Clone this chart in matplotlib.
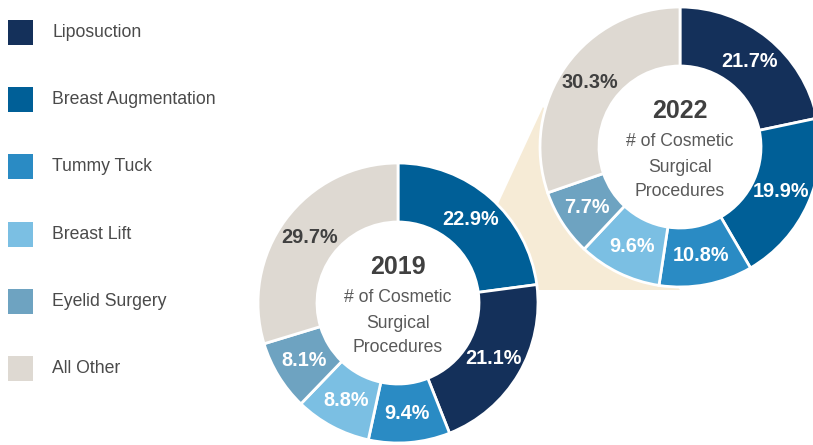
import matplotlib
matplotlib.use('Agg')
import matplotlib.pyplot as plt
from matplotlib import font_manager as fm
from matplotlib.patches import Polygon, Circle, Rectangle

# fonts: narrow sans if available
try:
    fm.findfont('Liberation Sans Narrow', fallback_to_default=False)
    FONT = 'Liberation Sans Narrow'
    SCALE = 1.0
except Exception:
    FONT = 'Liberation Sans'
    SCALE = 0.82
plt.rcParams['font.family'] = [FONT, 'DejaVu Sans']

categories = ['Liposuction', 'Breast Augmentation', 'Tummy Tuck',
              'Breast Lift', 'Eyelid Surgery', 'All Other']
colors = ['#14305a', '#005f97', '#2a8bc4', '#7bbfe3', '#6ea3c1', '#ded9d2']

# values in clockwise order from 12 o'clock
order_2019 = ['Breast Augmentation', 'Liposuction', 'Tummy Tuck',
              'Breast Lift', 'Eyelid Surgery', 'All Other']
pct_2019 = [22.9, 21.1, 9.4, 8.8, 8.1, 29.7]

order_2022 = ['Liposuction', 'Breast Augmentation', 'Tummy Tuck',
              'Breast Lift', 'Eyelid Surgery', 'All Other']
pct_2022 = [21.7, 19.9, 10.8, 9.6, 7.7, 30.3]

W, H = 813, 445
fig = plt.figure(figsize=(W / 100, H / 100), dpi=100)
ax = fig.add_axes([0, 0, 1, 1])

R, RIN = 140, 81
c19 = (398, H - 303)
c22 = (680, H - 147)

# beige connector behind the donuts
ax.add_patch(Polygon([(543, H - 107), (480, H - 243), (480, H - 290), (680, H - 290)],
                     closed=True, facecolor='#f6ebd6', edgecolor='none', zorder=0))


def donut(center, order, vals, year):
    cols = [colors[categories.index(c)] for c in order]
    wedges, texts, autotexts = ax.pie(
        vals, colors=cols, startangle=90, counterclock=False, radius=R,
        center=center, autopct='%.1f%%', pctdistance=(R + RIN) / 2 / R,
        wedgeprops=dict(width=R - RIN, edgecolor='white', linewidth=2),
        textprops=dict(fontsize=17.5 * SCALE, fontweight='bold', color='white'),
        frame=True)
    for w in wedges:
        w.set_zorder(2)
    for name, t in zip(order, autotexts):
        t.set_zorder(4)
        if name == 'All Other':
            t.set_color('#404040')
    ax.add_patch(Circle(center, RIN - 1, facecolor='white', edgecolor='none', zorder=3))
    cx, cy = center
    ax.text(cx, cy + 36, year, ha='center', va='center', fontsize=22 * SCALE,
            fontweight='bold', color='#404040', zorder=5)
    for dy, line in zip([6, -20, -45], ['# of Cosmetic', 'Surgical', 'Procedures']):
        ax.text(cx, cy + dy, line, ha='center', va='center', fontsize=15.5 * SCALE,
                color='#595959', zorder=5)


donut(c19, order_2019, pct_2019, '2019')
donut(c22, order_2022, pct_2022, '2022')

# legend
for i, (name, col) in enumerate(zip(categories, colors)):
    yc = H - (32.5 + i * 67.2)
    ax.add_patch(Rectangle((8, yc - 12.5), 25, 25, facecolor=col, edgecolor='none'))
    ax.text(52, yc, name, ha='left', va='center', fontsize=15.5 * SCALE, color='#4a4a4a')

ax.set_xlim(0, W)
ax.set_ylim(0, H)
ax.set_aspect('equal')
ax.axis('off')

fig.savefig('out.png', dpi=100)
